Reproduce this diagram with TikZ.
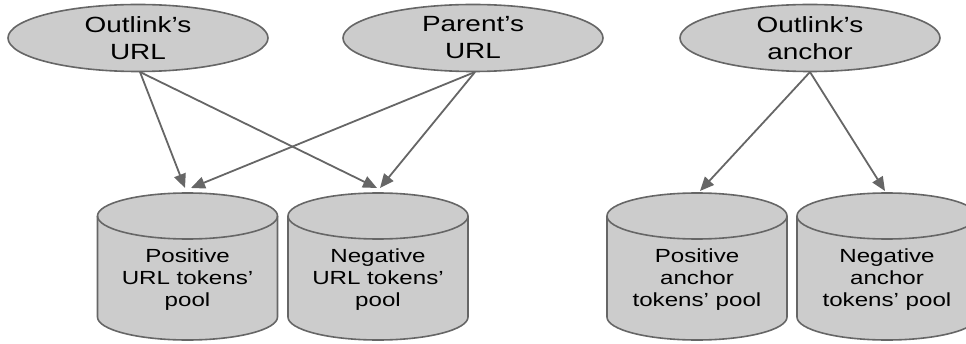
\documentclass[tikz,border=0pt]{standalone}
\usepackage{fontspec}
\setmainfont[FakeStretch=1.27]{Liberation Sans}
\usetikzlibrary{shapes.geometric,arrows.meta}
\definecolor{fillg}{HTML}{CCCCCC}
\definecolor{lineg}{HTML}{666666}
\newcommand\mycyl[3]{%
  \filldraw[cylbody] (#1-90,127) -- (#1-90,26) arc[start angle=180,end angle=360,x radius=90pt,y radius=23pt] -- (#1+90,127) arc[start angle=0,end angle=180,x radius=90pt,y radius=23pt] -- cycle;
  \draw[cylbody,fill=none] (#1-90,127) arc[start angle=180,end angle=360,x radius=90pt,y radius=23pt];
  \node[cyltext] (#2) at (#1,63) {#3};
}
\begin{document}
\begin{tikzpicture}[x=1pt,y=1pt,
  oval/.style={ellipse,draw=lineg,fill=fillg,line width=1.6pt,minimum width=260pt,minimum height=67pt,inner sep=0pt,align=center,font=\fontsize{22}{27}\selectfont},
  cylbody/.style={draw=lineg,fill=fillg,line width=1.6pt},
  cyltext/.style={align=center,font=\fontsize{19}{22}\selectfont,inner sep=0pt},
  arr/.style={draw=lineg,line width=1.8pt,-{Triangle[length=14pt,width=12pt]}}]
\useasboundingbox (0,0) rectangle (966,343);
\clip (0,0) rectangle (966,343);
\node[oval] (ou) at (138,305) {Outlink's\\URL};
\node[oval] (pu) at (473,305) {Parent's\\URL};
\node[oval] (oa) at (810,305) {Outlink's\\anchor};
\mycyl{187.5}{posurl}{Positive\\URL tokens'\\pool}
\mycyl{378}{negurl}{Negative\\URL tokens'\\pool}
\mycyl{697}{posanc}{Positive\\anchor\\tokens' pool}
\mycyl{887}{neganc}{Negative\\anchor\\tokens' pool}
\coordinate (pu1) at (185,155);
\coordinate (pu2) at (191,155);
\coordinate (nu1) at (377,155);
\coordinate (nu2) at (380,155);
\coordinate (pa1) at (700,152);
\coordinate (na1) at (885,152);
\coordinate (ous) at (140,271);
\coordinate (pus) at (475,271);
\coordinate (oas) at (810,271);
\draw[arr] (ous) -- (pu1);
\draw[arr] (ous) -- (nu1);
\draw[arr] (pus) -- (pu2);
\draw[arr] (pus) -- (nu2);
\draw[arr] (oas) -- (pa1);
\draw[arr] (oas) -- (na1);
\end{tikzpicture}
\end{document}
